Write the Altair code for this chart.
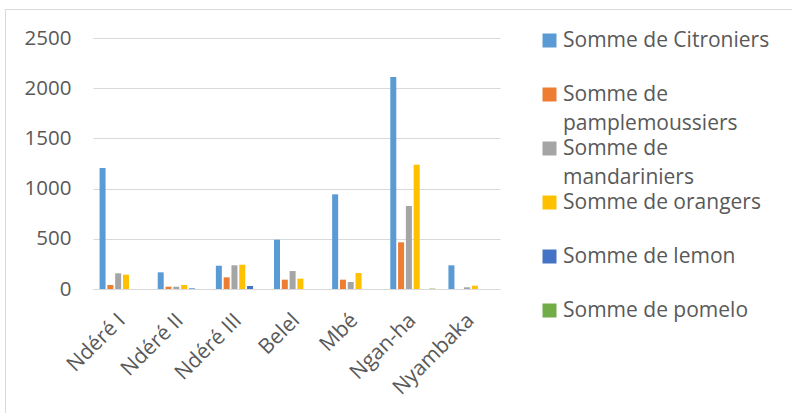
import altair as alt
import pandas as pd

categories = ["Ndéré I", "Ndéré II", "Ndéré III", "Belel", "Mbé", "Ngan-ha", "Nyambaka"]
series = [
    "Somme de Citroniers",
    "Somme de pamplemoussiers",
    "Somme de mandariniers",
    "Somme de orangers",
    "Somme de lemon",
    "Somme de pomelo",
]
citroniers = [1205, 166, 232, 491, 943, 2112, 236]
pamplemoussiers = [40, 23, 116, 93, 93, 465, 0]
mandariniers = [156, 23, 236, 179, 70, 827, 17]
orangers = [143, 40, 242, 103, 159, 1238, 33]
lemon = [0, 6, 30, 0, 0, 0, 0]
pomelo = [0, 0, 0, 0, 0, 4, 0]
colors = ["#5B9BD5", "#ED7D31", "#A5A5A5", "#FFC000", "#4472C4", "#70AD47"]
y_ticks = [0, 500, 1000, 1500, 2000, 2500]

rows = []
for name, vals in zip(series, [citroniers, pamplemoussiers, mandariniers, orangers, lemon, pomelo]):
    for cat, v in zip(categories, vals):
        rows.append({"Zone": cat, "Serie": name, "Valeur": v})
df = pd.DataFrame(rows)

FONT = "Open Sans"
TXT = "#595959"
GRID = "#d9d9d9"

label_expr = (
    "length(datum.label) > 20 ? ['Somme de', replace(datum.label, 'Somme de ', '')]"
    " : [datum.label, '']"
)

bars = alt.Chart(df).mark_bar().encode(
    x=alt.X(
        "Zone:N",
        sort=categories,
        title=None,
        scale=alt.Scale(paddingInner=0.195, paddingOuter=0.0975),
        axis=alt.Axis(
            labelAngle=-45,
            labelAlign="right",
            labelBaseline="middle",
            labelFont=FONT,
            labelFontSize=21,
            labelColor=TXT,
            ticks=False,
            domain=True,
            domainColor=GRID,
            domainWidth=1,
            labelPadding=28,
        ),
    ),
    xOffset=alt.XOffset(
        "Serie:N", sort=series, scale=alt.Scale(paddingInner=0.23, paddingOuter=0.115)
    ),
    y=alt.Y(
        "Valeur:Q",
        title=None,
        scale=alt.Scale(domain=[0, 2500], nice=False),
        axis=alt.Axis(
            values=y_ticks,
            format="d",
            grid=True,
            gridColor=GRID,
            gridWidth=1,
            domain=False,
            ticks=False,
            labelFont=FONT,
            labelFontSize=20.5,
            labelColor=TXT,
            labelPadding=22,
        ),
    ),
    color=alt.Color(
        "Serie:N",
        sort=series,
        scale=alt.Scale(domain=series, range=colors),
        legend=alt.Legend(
            title=None,
            orient="none",
            legendX=446,
            legendY=-8,
            symbolType="square",
            symbolSize=196,
            symbolStrokeWidth=0,
            labelFont=FONT,
            labelFontSize=21,
            labelColor=TXT,
            labelExpr=label_expr,
            labelLimit=400,
            labelOffset=3,
            rowPadding=3,
            padding=0,
        ),
    ),
)

frame_src = pd.DataFrame({"k": [0]})
frame_left = alt.Chart(frame_src).mark_rule(color=GRID, strokeWidth=1).encode(
    x=alt.value(-87.5), y=alt.value(-28.5), y2=alt.value(400)
)
frame_top = alt.Chart(frame_src).mark_rule(color=GRID, strokeWidth=1).encode(
    x=alt.value(-87.5), x2=alt.value(720), y=alt.value(-28.5)
)

chart = (
    alt.layer(frame_left, frame_top, bars)
    .properties(
        width=407,
        height=251,
        padding={"left": 93, "top": 38, "right": 292, "bottom": 124},
        autosize=alt.AutoSizeParams(type="none"),
        background="white",
    )
    .configure(style={"guide-label": {"lineHeight": 29}})
    .configure_view(stroke=None)
)

chart.save("out.html", embed_options={"renderer": "svg", "actions": False})
